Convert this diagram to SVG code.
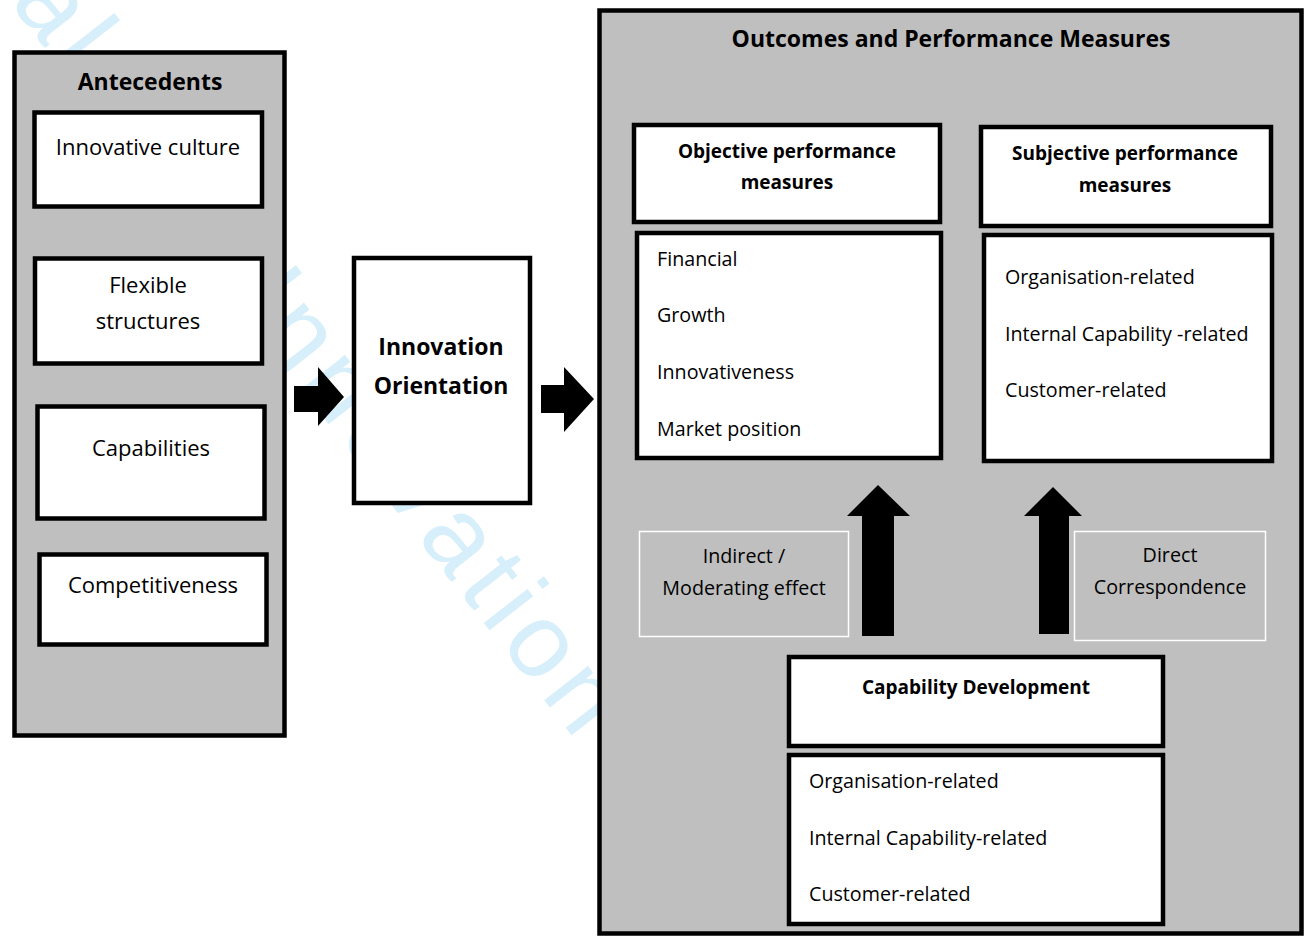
<svg xmlns="http://www.w3.org/2000/svg" width="1307" height="941" viewBox="0 0 1307 941">
<style>
.wm{font-family:"Liberation Sans",Arial,sans-serif;font-size:105px;letter-spacing:8px;fill:#d6effb}
.panel{fill:#bfbfbf;stroke:#000;stroke-width:4.5}
.box{fill:#fff;stroke:#000;stroke-width:4.5}
.lbl{fill:#bfbfbf;stroke:#fff;stroke-width:1.5}
.t{font-family:"Open Sans","Noto Sans",sans-serif;font-size:19.7px;fill:#000}
.a{font-size:22px}
.c{text-anchor:middle}
.b{font-weight:bold}
.h{font-size:19px}
.big{font-size:23px}
.arr{fill:#000}
</style>
<rect width="1307" height="941" fill="#fff"/>
<g id="watermark">
<text class="wm" transform="translate(9,2) rotate(52)">al</text>
<text class="wm" transform="translate(233,302) rotate(52)">Innovation</text>
</g>
<g id="antecedents">
<rect class="panel" x="14.5" y="52.5" width="270" height="683"/>
<text class="t big c b" x="150" y="90">Antecedents</text>
</g>
<g id="innovative-culture">
<rect class="box" x="34.5" y="112.5" width="227.5" height="94"/>
<text class="t a c" x="148" y="155">Innovative culture</text>
</g>
<g id="flexible-structures">
<rect class="box" x="35" y="258.5" width="227" height="105"/>
<text class="t a c" x="148" y="293">Flexible</text>
<text class="t a c" x="148" y="329">structures</text>
</g>
<g id="capabilities">
<rect class="box" x="37.5" y="406.5" width="227" height="112"/>
<text class="t a c" x="151" y="456">Capabilities</text>
</g>
<g id="competitiveness">
<rect class="box" x="39.5" y="554.5" width="227" height="90"/>
<text class="t a c" x="153" y="593">Competitiveness</text>
</g>
<g id="innovation-orientation">
<rect class="box" x="354" y="258" width="176" height="245"/>
<text class="t big c b" x="441" y="355">Innovation</text>
<text class="t big c b" x="441" y="394">Orientation</text>
</g>
<g id="outcomes">
<rect class="panel" x="599.5" y="10.5" width="702" height="923"/>
<text class="t big c b" x="951" y="47">Outcomes and Performance Measures</text>
</g>
<g id="objective-header">
<rect class="box" x="634" y="125" width="306" height="97"/>
<text class="t h c b" x="787" y="158">Objective performance</text>
<text class="t h c b" x="787" y="189">measures</text>
</g>
<g id="objective-list">
<rect class="box" x="637" y="233" width="304" height="225"/>
<text class="t" x="657" y="266">Financial</text>
<text class="t" x="657" y="322">Growth</text>
<text class="t" x="657" y="379">Innovativeness</text>
<text class="t" x="657" y="436">Market position</text>
</g>
<g id="subjective-header">
<rect class="box" x="981" y="127" width="290" height="99"/>
<text class="t h c b" x="1125" y="160">Subjective performance</text>
<text class="t h c b" x="1125" y="192">measures</text>
</g>
<g id="subjective-list">
<rect class="box" x="984" y="235" width="288" height="226"/>
<text class="t" x="1005" y="284">Organisation-related</text>
<text class="t" x="1005" y="341">Internal Capability -related</text>
<text class="t" x="1005" y="397">Customer-related</text>
</g>
<g id="indirect-label">
<rect class="lbl" x="639.5" y="531.5" width="209" height="105"/>
<text class="t c" x="744" y="563">Indirect /</text>
<text class="t c" x="744" y="595">Moderating effect</text>
</g>
<g id="direct-label">
<rect class="lbl" x="1074.5" y="531.5" width="191" height="109"/>
<text class="t c" x="1170" y="562">Direct</text>
<text class="t c" x="1170" y="594">Correspondence</text>
</g>
<g id="capability-header">
<rect class="box" x="789" y="657" width="374" height="89"/>
<text class="t h c b" x="976" y="694">Capability Development</text>
</g>
<g id="capability-list">
<rect class="box" x="789" y="755" width="374" height="169"/>
<text class="t" x="809" y="788">Organisation-related</text>
<text class="t" x="809" y="845">Internal Capability-related</text>
<text class="t" x="809" y="901">Customer-related</text>
</g>
<g id="connectors">
<polygon class="arr" points="294,386 318,386 318,367 344,397 318,426 318,412 294,412"/>
<polygon class="arr" points="541,385 564,385 564,367 594,399 564,432 564,413 541,413"/>
<polygon class="arr" points="862,636 894,636 894,516 910,516 878,485 847,516 862,516"/>
<polygon class="arr" points="1039,634 1069,634 1069,516 1082,516 1053,487 1024,516 1039,516"/>
</g>
</svg>
